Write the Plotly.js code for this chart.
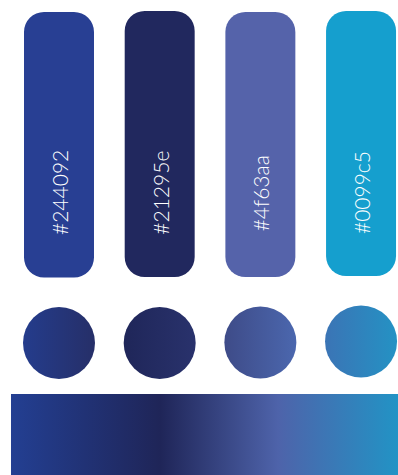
<!DOCTYPE html>
<html>
<head>
<meta charset="utf-8">
<script src="https://cdn.plot.ly/plotly-3.0.1.min.js"></script>
<style>html,body{margin:0;padding:0;background:#fff;}#chart{width:398px;height:475px;}</style>
</head>
<body>
<div id="chart"></div>
<script>
// Palette swatches
const hexLabels   = ['#244092', '#21295e', '#4f63aa', '#0099c5'];
const swatchFill  = ['#283f93', '#21285e', '#5563aa', '#159fce'];
// swatch extents (height units from bottom of page)
const swatchBottom = [197.5, 198, 198, 199];
const swatchTop    = [463, 464, 463, 464];
const labelLevel   = [282, 282, 282, 282];
// circle swatches: left / right gradient colours
const circleLevel = [132, 132, 132.5, 133.5];
const circleLeft  = ['#243c8c', '#1f2659', '#3e4b88', '#3b74b5'];
const circleRight = ['#262f68', '#29326c', '#4b67ae', '#2492c4'];
// gradient band stops
const bandStops  = [0, 0.385, 0.69, 1];
const bandColors = ['#233f92', '#1f2558', '#4e63aa', '#2293c5'];
const bandHeight = 81;

const swatches = {
  type: 'bar', x: hexLabels,
  base: swatchBottom,
  y: swatchTop.map((t, i) => t - swatchBottom[i]),
  width: 0.695,
  marker: {color: swatchFill, cornerradius: 20, line: {width: 0}},
  hoverinfo: 'none', textposition: 'none'
};
const circles = {
  type: 'scatter', mode: 'markers', x: hexLabels, y: circleLevel,
  marker: {size: 72, color: circleLeft, line: {width: 0},
           gradient: {type: 'horizontal', color: circleRight}},
  hoverinfo: 'none'
};
const band = {
  type: 'scatter', mode: 'lines', xaxis: 'x2', yaxis: 'y',
  x: [bandStops[0], bandStops[3], bandStops[3], bandStops[0], bandStops[0]],
  y: [0, 0, bandHeight, bandHeight, 0],
  fill: 'toself', line: {width: 0},
  fillgradient: {type: 'horizontal',
    colorscale: bandStops.map((s, i) => [s, bandColors[i]])},
  hoverinfo: 'none'
};

const annotations = hexLabels.map((h, i) => ({
  x: h, y: labelLevel[i], xref: 'x', yref: 'y',
  text: h, showarrow: false, textangle: -90,
  xanchor: 'center', yanchor: 'middle',
  font: {color: '#ffffff', size: 21, family: 'Lato, "DejaVu Sans", sans-serif', weight: 300}
}));

const layout = {
  width: 398, height: 475,
  margin: {l: 0, r: 0, t: 0, b: 0},
  paper_bgcolor: '#ffffff', plot_bgcolor: '#ffffff',
  showlegend: false, barmode: 'overlay',
  xaxis: {range: [-0.586, 3.367], visible: false, fixedrange: true},
  xaxis2: {range: [-0.0284, 1], overlaying: 'x', visible: false, fixedrange: true},
  yaxis: {range: [0, 475], visible: false, fixedrange: true},
  annotations: annotations
};
Plotly.newPlot('chart', [band, swatches, circles], layout, {staticPlot: true, displayModeBar: false});
</script>
</body>
</html>
